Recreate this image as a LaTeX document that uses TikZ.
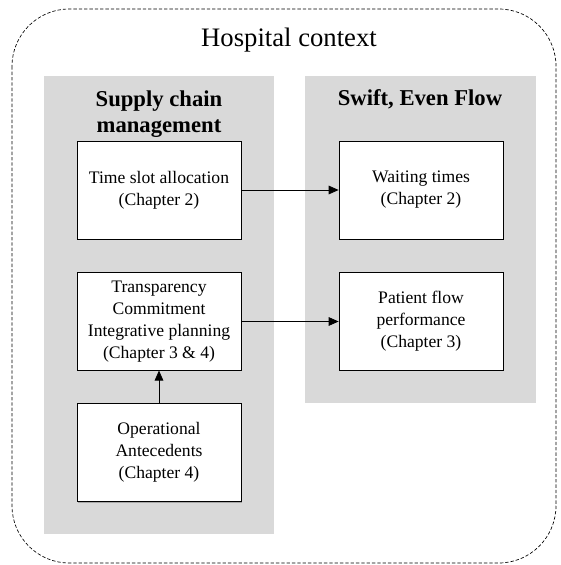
\documentclass[tikz,border=0pt]{standalone}
\usepackage{fontspec}
\setmainfont{Liberation Serif}
\usetikzlibrary{arrows.meta,shadows}
\definecolor{panelgray}{RGB}{217,217,217}
\begin{document}
\begin{tikzpicture}[x=0.75pt,y=-0.75pt,
  panel/.style={fill=panelgray,draw=none},
  outerbox/.style={draw,dashed,rounded corners=43pt,line width=0.5pt,dash pattern=on 2.5pt off 1.5pt},
  chbox/.style={draw=black,fill=white,line width=0.6pt,minimum width=123pt,align=center,
    font=\fontsize{13.2}{16.5}\selectfont,inner sep=2pt,
    drop shadow={shadow xshift=0.7pt,shadow yshift=-0.7pt,fill=gray!70,opacity=1}},
  heading/.style={align=center,font=\fontsize{17}{19.5}\selectfont\bfseries,inner sep=0pt},
  title/.style={font=\fontsize{20}{24}\selectfont,inner sep=0pt},
  conn/.style={-{Triangle[length=7.5pt,width=6.5pt]},line width=0.6pt}]
\useasboundingbox (0,0) rectangle (561,565);
\draw[outerbox] (12,9) rectangle (556,563);
\node[title] (hc) at (289,40) {Hospital context};
\fill[panel] (44,76) rectangle (274,534);
\fill[panel] (305,76) rectangle (536,403);
\node[heading] (scm) at (159,114) {Supply chain\\management};
\node[heading] (sef) at (420,99) {Swift, Even Flow};
\node[chbox,minimum height=73.5pt] (l1) at (159,190) {Time slot allocation\\(Chapter 2)};
\node[chbox,minimum height=73.5pt] (r1) at (421,190) {Waiting times\\(Chapter 2)};
\node[chbox,minimum height=73pt] (l2) at (159,321.5) {Transparency\\Commitment\\Integrative planning\\(Chapter 3 \& 4)};
\node[chbox,minimum height=73pt] (r2) at (421,321.5) {Patient flow\\performance\\(Chapter 3)};
\node[chbox,minimum height=74pt] (l3) at (159,452.5) {Operational\\Antecedents\\(Chapter 4)};
\draw[conn] (l1) -- (r1);
\draw[conn] (l2) -- (r2);
\draw[conn] (l3) -- (l2);
\end{tikzpicture}
\end{document}
